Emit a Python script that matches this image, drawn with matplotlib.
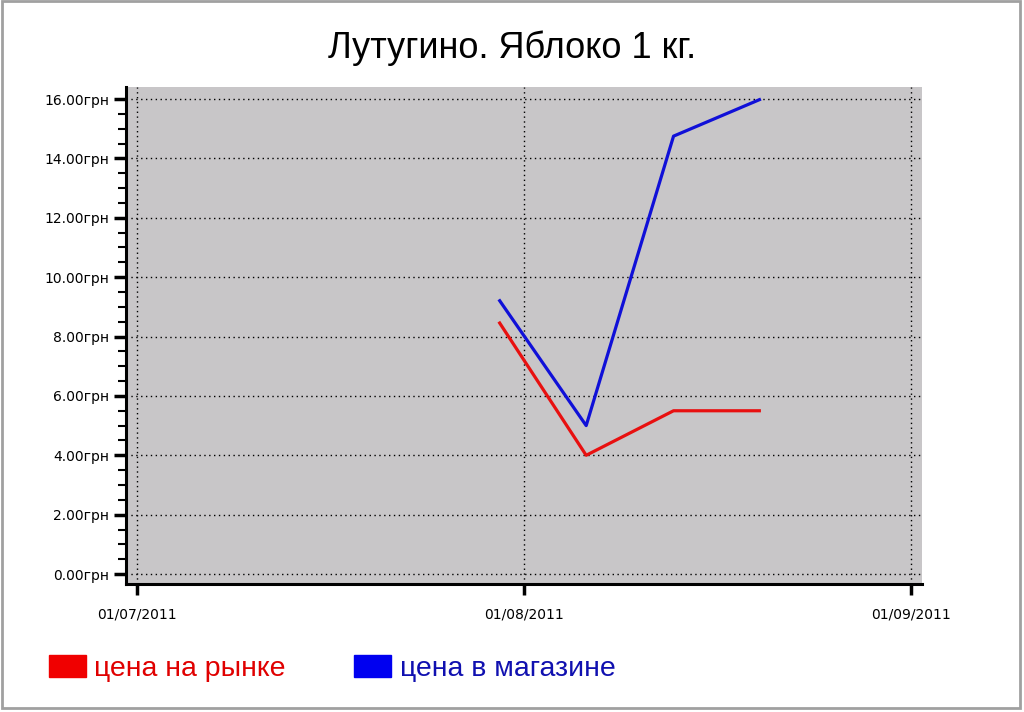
import datetime

import matplotlib
matplotlib.use("Agg")
import matplotlib.pyplot as plt
import matplotlib.dates as mdates
from matplotlib.patches import Patch, Rectangle
from matplotlib.ticker import FuncFormatter, MultipleLocator

# data
dates = [datetime.datetime(2011, 7, 30), datetime.datetime(2011, 8, 6),
         datetime.datetime(2011, 8, 13), datetime.datetime(2011, 8, 20)]
market_price = [8.5, 4.0, 5.5, 5.5]
shop_price = [9.25, 5.0, 14.75, 16.0]
x_ticks = [datetime.datetime(2011, 7, 1), datetime.datetime(2011, 8, 1),
           datetime.datetime(2011, 9, 1)]
series_labels = ['цена на рынке', 'цена в магазине']
title = 'Лутугино. Яблоко 1 кг.'

fig = plt.figure(figsize=(10.24, 7.12), dpi=100)
ax = fig.add_axes([0.123, 0.18, 0.777, 0.698])
ax.set_facecolor('#C8C6C8')

ax.plot(dates, market_price, color='#E81010', lw=2.3, solid_capstyle='butt')
ax.plot(dates, shop_price, color='#1010D8', lw=2.3, solid_capstyle='butt')

pad = datetime.timedelta(hours=21)
ax.set_xlim(x_ticks[0] - pad, x_ticks[-1] + pad)
ax.set_ylim(-0.33, 16.41)

ax.set_xticks(x_ticks)
ax.xaxis.set_major_formatter(mdates.DateFormatter('%d/%m/%Y'))
ax.yaxis.set_major_locator(MultipleLocator(2))
ax.yaxis.set_minor_locator(MultipleLocator(0.5))
ax.yaxis.set_major_formatter(FuncFormatter(lambda v, p: f'{v:.2f}грн'))

ax.grid(True, which='major', color='black', linestyle=(0, (1, 2.5)), lw=1.0)
for s in ['top', 'right']:
    ax.spines[s].set_visible(False)
for s in ['left', 'bottom']:
    ax.spines[s].set_linewidth(2.2)
ax.tick_params(axis='y', which='major', length=9, width=2.5, labelsize=10, pad=3)
ax.tick_params(axis='y', which='minor', length=6, width=1.5)
ax.tick_params(axis='x', which='major', length=8, width=2.5, labelsize=10, pad=9)

fig.text(0.5, 0.9185, title, ha='center', va='baseline', fontsize=26,
         family='Liberation Sans')

handles = [Patch(color='#F00000'), Patch(color='#0000F0')]
fig.legend(handles, series_labels, loc='center left', bbox_to_anchor=(0.0225, 0.061),
           ncol=2, frameon=False, labelcolor=['#E00000', '#1010B0'],
           prop={'family': 'Liberation Sans', 'size': 20.5},
           handlelength=1.3, handleheight=0.8, handletextpad=0.3, columnspacing=2.4)

fig.patches.append(Rectangle((0.002, 0.006), 0.994, 0.992, transform=fig.transFigure,
                             fill=False, edgecolor='#A0A0A0', lw=2))

fig.savefig('out.png', dpi=100)
